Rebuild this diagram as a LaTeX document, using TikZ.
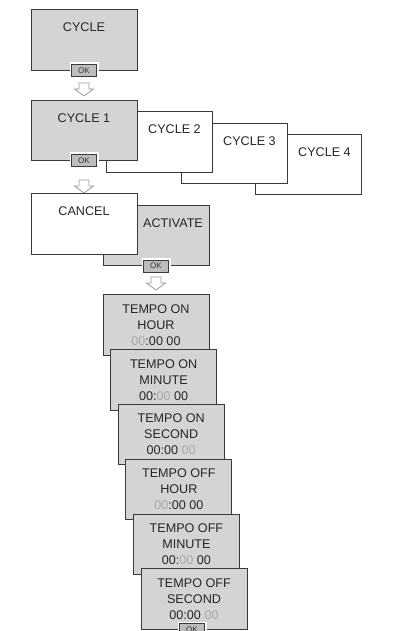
\documentclass[tikz,border=0pt]{standalone}
\usepackage{fontspec}
\setmainfont{Liberation Sans}
\definecolor{boxgray}{HTML}{D4D4D4}
\definecolor{edge}{HTML}{3A3A3A}
\definecolor{okgray}{HTML}{BDBDBD}
\definecolor{dim}{HTML}{A8A8A8}
\definecolor{arr}{HTML}{9A9A9A}
\begin{document}
\begin{tikzpicture}[x=1pt,y=-1pt,
  panel/.style={draw=edge, line width=0.9pt, minimum width=106pt, minimum height=60.5pt, inner sep=0pt},
  graypanel/.style={panel, fill=boxgray},
  whitepanel/.style={panel, fill=white},
  txt/.style={font=\fontsize{12.6}{16}\selectfont, text=black!85, inner sep=0pt, align=center},
  okbtn/.style={draw=edge, line width=0.8pt, fill=okgray, minimum width=25pt, minimum height=12pt, inner sep=0pt,
     font=\fontsize{8}{8}\selectfont, text=black!80, preaction={draw=white, line width=4pt}},
  downarrow/.pic={\draw[arr, line width=0.8pt, fill=white, line join=miter]
     (-5,0) -- (5,0) -- (5,6) -- (9.5,6) -- (0,13) -- (-9.5,6) -- (-5,6) -- cycle;}
]
\useasboundingbox (0,0) rectangle (394,631);

% CYCLE
\node[graypanel] (cyc) at (84,40) {};
\node[txt] (cyct) at (84,27) {CYCLE};
\node[okbtn] (ok1) at (84,70.5) {OK};
\pic at (84,83) {downarrow};

% CYCLE 1..4
\node[whitepanel] (c4) at (308.5,164.5) {};
\node[txt] (c4t) at (324.5,152) {CYCLE 4};
\node[whitepanel] (c3) at (234,153.5) {};
\node[txt] (c3t) at (249.5,141) {CYCLE 3};
\node[whitepanel] (c2) at (159,142) {};
\node[txt] (c2t) at (174.5,129) {CYCLE 2};
\node[graypanel] (c1) at (84,130.5) {};
\node[txt] (c1t) at (84,118) {CYCLE 1};
\node[okbtn] (ok2) at (84,160.5) {OK};
\pic at (84,180) {downarrow};

% CANCEL / ACTIVATE
\node[graypanel] (act) at (156,235.5) {};
\node[txt] (actt) at (173,223) {ACTIVATE};
\node[whitepanel] (can) at (84,224) {};
\node[txt] (cant) at (84,211) {CANCEL};
\node[okbtn] (ok3) at (156,266) {OK};
\pic at (156,277) {downarrow};

% TEMPO panels
\node[graypanel] (t1) at (156,325) {};
\node[txt] (t1t) at (t1.center) {TEMPO ON\\HOUR\\\textcolor{dim}{00}:00 00};
\node[graypanel] (t2) at (163.6,379.8) {};
\node[txt] (t2t) at (t2.center) {TEMPO ON\\MINUTE\\00:\textcolor{dim}{00} 00};
\node[graypanel] (t3) at (171.2,434.6) {};
\node[txt] (t3t) at (t3.center) {TEMPO ON\\SECOND\\00:00 \textcolor{dim}{00}};
\node[graypanel] (t4) at (178.8,489.4) {};
\node[txt] (t4t) at (t4.center) {TEMPO OFF\\HOUR\\\textcolor{dim}{00}:00 00};
\node[graypanel] (t5) at (186.4,544.2) {};
\node[txt] (t5t) at (t5.center) {TEMPO OFF\\MINUTE\\00:\textcolor{dim}{00} 00};
\node[graypanel] (t6) at (194,599) {};
\node[txt] (t6t) at (t6.center) {TEMPO OFF\\SECOND\\00:00 \textcolor{dim}{00}};
\node[okbtn] (ok4) at (192,629.5) {OK};
\end{tikzpicture}
\end{document}
